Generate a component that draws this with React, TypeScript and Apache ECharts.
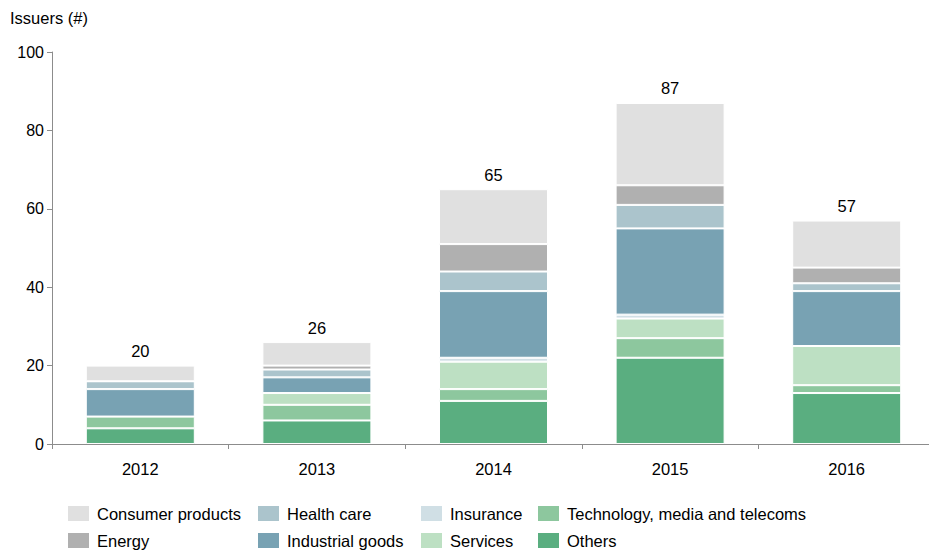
import React, { useEffect, useRef } from "react";
import * as echarts from "echarts";

const years = ["2012", "2013", "2014", "2015", "2016"];
const others = [4, 6, 11, 22, 13];
const tmt = [3, 4, 3, 5, 2];
const services = [0, 3, 7, 5, 10];
const insurance = [0, 0, 1, 1, 0];
const industrial = [7, 4, 17, 22, 14];
const healthCare = [2, 2, 5, 6, 2];
const energy = [0, 1, 7, 5, 4];
const consumer = [4, 6, 14, 21, 12];
const yTicks = [0, 20, 40, 60, 80, 100];

const FONT = "Liberation Sans, Arial, sans-serif";

export default function App() {
  const ref = useRef<HTMLDivElement>(null);
  useEffect(() => {
    if (!ref.current) return;
    const chart = echarts.init(ref.current, null, { renderer: "svg" });
    const seriesDefs = [
      { name: "Others", data: others, color: "#5aae80" },
      { name: "Technology, media and telecoms", data: tmt, color: "#8dc79e" },
      { name: "Services", data: services, color: "#bde0c3" },
      { name: "Insurance", data: insurance, color: "#d0dfe5" },
      { name: "Industrial goods", data: industrial, color: "#78a2b3" },
      { name: "Health care", data: healthCare, color: "#abc4cc" },
      { name: "Energy", data: energy, color: "#b0b0b0" },
      { name: "Consumer products", data: consumer, color: "#e0e0e0" },
    ];
    const totals = years.map((_, i) => seriesDefs.reduce((s, d) => s + d.data[i], 0));
    const legendCols = [
      { left: 66, names: ["Consumer products", "Energy"] },
      { left: 256, names: ["Health care", "Industrial goods"] },
      { left: 419, names: ["Insurance", "Services"] },
      { left: 536, names: ["Technology, media and telecoms", "Others"] },
    ];
    chart.setOption({
      animation: false,
      textStyle: { fontFamily: FONT },
      graphic: [
        {
          type: "text",
          left: 10,
          top: 9,
          style: { text: "Issuers (#)", fontSize: 16.5, fontFamily: FONT, fill: "#000" },
        },
      ],
      legend: legendCols.map((c) => ({
        data: c.names,
        orient: "vertical",
        left: c.left,
        top: 504,
        itemWidth: 23,
        itemHeight: 17,
        itemGap: 8,
        padding: 0,
        icon: "rect",
        selectedMode: false,
        textStyle: { fontSize: 16.5, color: "#000", fontFamily: FONT, padding: [0, 0, 0, 2] },
      })),
      grid: { left: 52, top: 52, width: 883, height: 392 },
      xAxis: {
        type: "category",
        data: years,
        axisLine: { lineStyle: { color: "#8c8c8c" } },
        axisTick: { show: true, length: 5, lineStyle: { color: "#8c8c8c" } },
        axisLabel: { fontSize: 16.5, color: "#000", margin: 16, fontFamily: FONT },
      },
      yAxis: {
        type: "value",
        min: 0,
        max: 100,
        interval: 20,
        axisLine: { show: true, lineStyle: { color: "#8c8c8c" } },
        axisTick: { show: true, length: 5, lineStyle: { color: "#8c8c8c" } },
        splitLine: { show: false },
        axisLabel: {
          fontSize: 16,
          color: "#000",
          margin: 8,
          fontFamily: FONT,
          formatter: (v: number) => (yTicks.includes(v) ? String(v) : ""),
        },
      },
      series: seriesDefs.map((d, idx) => ({
        name: d.name,
        type: "bar",
        stack: "total",
        barWidth: 109,
        data: d.data,
        itemStyle: { color: d.color, borderColor: "#ffffff", borderWidth: 1 },
        label:
          idx === seriesDefs.length - 1
            ? {
                show: true,
                position: "top",
                distance: 6,
                fontSize: 16.5,
                color: "#000",
                fontFamily: FONT,
                formatter: (p: any) => String(totals[p.dataIndex]),
              }
            : { show: false },
      })),
    });
    return () => chart.dispose();
  }, []);
  return (
    <div
      style={{ position: "absolute", left: 0, top: 0, width: 929, height: 552, overflow: "hidden", background: "#fff" }}
    >
      <div ref={ref} style={{ width: 940, height: 552 }} />
    </div>
  );
}
